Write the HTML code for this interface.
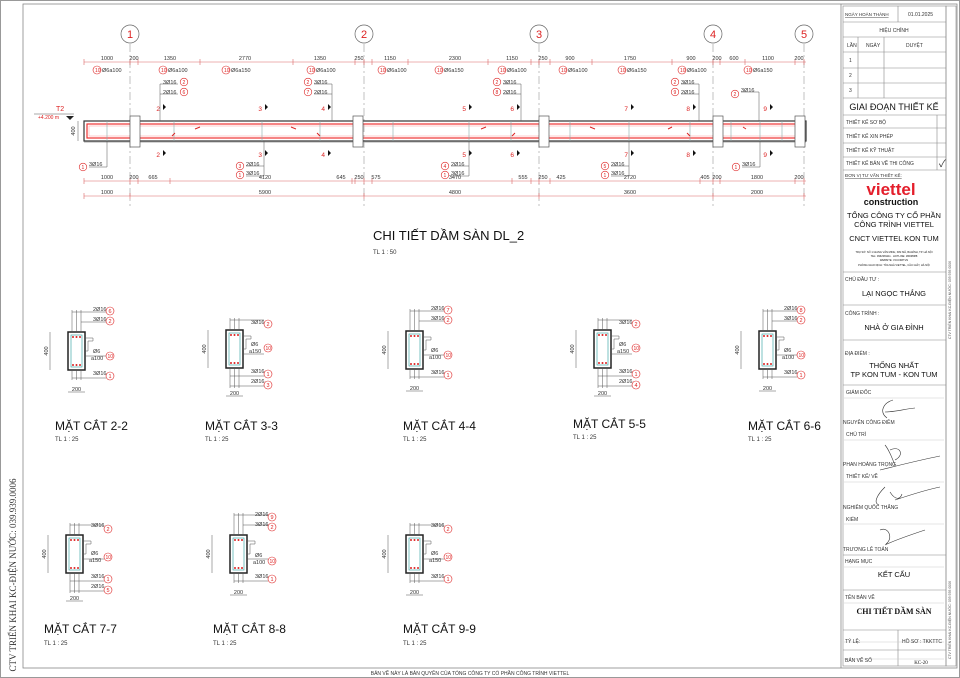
<!DOCTYPE html>
<html><head><meta charset="utf-8"><style>
html,body{margin:0;padding:0;background:#fff}
svg{display:block}
text{font-family:"Liberation Sans","Noto Sans CJK SC",sans-serif}
.d{font-size:5.5px;fill:#333}
.r{fill:#d22}
.c{fill:none;stroke:#d22;stroke-width:.6}
.g{stroke:#555;stroke-width:.5;fill:none}
.rl{stroke:#d66;stroke-width:.5;fill:none}
.t{font-size:5px;fill:#333}
.tb{font-size:9px;fill:#111}
</style></head><body>
<svg width="960" height="678" viewBox="0 0 960 678" xmlns="http://www.w3.org/2000/svg">
<defs>
<g id="cir"><circle r="4" class="c"/></g>
</defs>
<rect x="0.5" y="0.5" width="959" height="677" fill="none" stroke="#999"/>
<rect x="23" y="4" width="934" height="664" fill="none" stroke="#888" stroke-width=".8"/>
<line x1="841" y1="4" x2="841" y2="668" stroke="#888" stroke-width=".8"/>
<text x="16" y="575" transform="rotate(-90 16 575)" text-anchor="middle" style="font-family:'Liberation Serif',serif;font-size:9px;fill:#333">CTV TRIỂN KHAI KC-ĐIỆN NƯỚC: 039.939.0006</text>
<text x="470" y="675" text-anchor="middle" style="font-size:5px;fill:#333">BẢN VẼ NÀY LÀ BẢN QUYỀN CỦA TỔNG CÔNG TY CỔ PHẦN CÔNG TRÌNH VIETTEL</text>

<g stroke="#999" stroke-width=".6" stroke-dasharray="8,3,2,3">
<line x1="130" y1="44" x2="130" y2="206"/><line x1="364" y1="44" x2="364" y2="206"/><line x1="539" y1="44" x2="539" y2="206"/><line x1="713" y1="44" x2="713" y2="206"/><line x1="804" y1="44" x2="804" y2="206"/>
</g>
<g fill="#fff" stroke="#666" stroke-width=".7">
<circle cx="130" cy="34" r="9"/><circle cx="364" cy="34" r="9"/><circle cx="539" cy="34" r="9"/><circle cx="713" cy="34" r="9"/><circle cx="804" cy="34" r="9"/>
</g>
<g class="r" font-size="11" text-anchor="middle">
<text x="130" y="38">1</text><text x="364" y="38">2</text><text x="539" y="38">3</text><text x="713" y="38">4</text><text x="804" y="38">5</text>
</g>

<g class="rl"><line x1="84" y1="62" x2="806" y2="62"/><line x1="84" y1="181" x2="806" y2="181"/><line x1="84" y1="196" x2="806" y2="196"/></g>
<g stroke="#d66" stroke-width=".6">
<path d="M84,59v6M130,59v6M138,59v6M200,59v6M293,59v6M355,59v6M364,59v6M372,59v6M408,59v6M488,59v6M531,59v6M539,59v6M550,59v6M592,59v6M672,59v6M713,59v6M720,59v6M745,59v6M795,59v6M804,59v6"/>
<path d="M84,178v6M130,178v6M138,178v6M170,178v6M352,178v6M355,178v6M364,178v6M372,178v6M512,178v6M531,178v6M539,178v6M550,178v6M700,178v6M713,178v6M720,178v6M795,178v6M804,178v6"/>
<path d="M84,193v6M130,193v6M364,193v6M539,193v6M713,193v6M804,193v6"/>
</g>
<g class="d" text-anchor="middle">
<text x="107" y="60">1000</text><text x="134" y="60">200</text><text x="170" y="60">1350</text><text x="245" y="60">2770</text><text x="320" y="60">1350</text><text x="359" y="60">250</text><text x="390" y="60">1150</text><text x="455" y="60">2300</text><text x="512" y="60">1150</text><text x="543" y="60">250</text><text x="570" y="60">900</text><text x="630" y="60">1750</text><text x="691" y="60">900</text><text x="717" y="60">200</text><text x="734" y="60">600</text><text x="768" y="60">1100</text><text x="799" y="60">200</text>
<text x="107" y="179">1000</text><text x="134" y="179">200</text><text x="153" y="179">665</text><text x="265" y="179">4120</text><text x="341" y="179">645</text><text x="359" y="179">250</text><text x="376" y="179">575</text><text x="455" y="179">3470</text><text x="523" y="179">555</text><text x="543" y="179">250</text><text x="561" y="179">425</text><text x="630" y="179">2720</text><text x="705" y="179">405</text><text x="717" y="179">200</text><text x="757" y="179">1800</text><text x="799" y="179">200</text>
<text x="107" y="194">1000</text><text x="265" y="194">5900</text><text x="455" y="194">4800</text><text x="630" y="194">3600</text><text x="757" y="194">2000</text>
</g>
<g class="d">
<g transform="translate(97,70)"><use href="#cir"/><text x="-2" y="2" class="r" font-size="5">10</text><text x="5" y="2">Ø6a100</text></g>
<g transform="translate(163,70)"><use href="#cir"/><text x="-2" y="2" class="r" font-size="5">10</text><text x="5" y="2">Ø6a100</text></g>
<g transform="translate(226,70)"><use href="#cir"/><text x="-2" y="2" class="r" font-size="5">10</text><text x="5" y="2">Ø6a150</text></g>
<g transform="translate(311,70)"><use href="#cir"/><text x="-2" y="2" class="r" font-size="5">10</text><text x="5" y="2">Ø6a100</text></g>
<g transform="translate(382,70)"><use href="#cir"/><text x="-2" y="2" class="r" font-size="5">10</text><text x="5" y="2">Ø6a100</text></g>
<g transform="translate(439,70)"><use href="#cir"/><text x="-2" y="2" class="r" font-size="5">10</text><text x="5" y="2">Ø6a150</text></g>
<g transform="translate(502,70)"><use href="#cir"/><text x="-2" y="2" class="r" font-size="5">10</text><text x="5" y="2">Ø6a100</text></g>
<g transform="translate(563,70)"><use href="#cir"/><text x="-2" y="2" class="r" font-size="5">10</text><text x="5" y="2">Ø6a100</text></g>
<g transform="translate(622,70)"><use href="#cir"/><text x="-2" y="2" class="r" font-size="5">10</text><text x="5" y="2">Ø6a150</text></g>
<g transform="translate(682,70)"><use href="#cir"/><text x="-2" y="2" class="r" font-size="5">10</text><text x="5" y="2">Ø6a100</text></g>
<g transform="translate(748,70)"><use href="#cir"/><text x="-2" y="2" class="r" font-size="5">10</text><text x="5" y="2">Ø6a150</text></g>
</g>

<text x="56" y="111" class="r" font-size="7">T2</text>
<text x="38" y="119" class="r" font-size="5">+4.200 m</text>
<line x1="34" y1="114" x2="74" y2="114" stroke="#555" stroke-width=".5"/>
<path d="M66,116l4,4l4,-4z" fill="#222"/>
<text x="75" y="131" class="d" transform="rotate(-90 75 131)" text-anchor="middle">400</text>
<line x1="78" y1="121" x2="78" y2="141" class="g"/>

<rect x="84" y="121" width="722" height="20" fill="none" stroke="#333" stroke-width="1.2"/>
<line x1="84" y1="142" x2="806" y2="142" stroke="#aaa" stroke-width="1"/>
<rect x="87" y="124" width="716" height="14" fill="none" stroke="#e33" stroke-width="1.2"/>
<rect x="89" y="126" width="712" height="10" fill="none" stroke="#f99" stroke-width=".5"/>
<g fill="#fff" stroke="#555" stroke-width=".7">
<rect x="130" y="116" width="10" height="31"/><rect x="353" y="116" width="10" height="31"/><rect x="539" y="116" width="10" height="31"/><rect x="713" y="116" width="10" height="31"/><rect x="795" y="116" width="10" height="31"/>
</g>
<g stroke="#8aa" stroke-width=".6">
<path d="M107,121v20M174,121v20M262,121v20M320,121v20M393,121v20M469,121v20M511,121v20M570,121v20M629,121v20M690,121v20M731,121v20M760,121v20M782,121v20"/>
</g>
<g stroke="#d22" stroke-width="1"><path d="M200,127l-5,2M291,127l5,2M172,136l3,-3M320,136l-3,-3M486,127l-5,2M590,127l5,2M512,136l3,-3M690,136l-3,-3M672,127l-4,2M743,127l3,2"/></g>
<g class="r" font-size="6.5" text-anchor="end">
<text x="160" y="111">2</text><text x="262" y="111">3</text><text x="325" y="111">4</text><text x="466" y="111">5</text><text x="514" y="111">6</text><text x="628" y="111">7</text><text x="690" y="111">8</text><text x="767" y="111">9</text>
<text x="160" y="157">2</text><text x="262" y="157">3</text><text x="325" y="157">4</text><text x="466" y="157">5</text><text x="514" y="157">6</text><text x="628" y="157">7</text><text x="690" y="157">8</text><text x="767" y="157">9</text>
</g>
<g fill="#111"><path d="M163,104l3,3l-3,3zM265,104l3,3l-3,3zM328,104l3,3l-3,3zM469,104l3,3l-3,3zM517,104l3,3l-3,3zM631,104l3,3l-3,3zM693,104l3,3l-3,3zM770,104l3,3l-3,3z"/>
<path d="M163,150l3,3l-3,3zM265,150l3,3l-3,3zM328,150l3,3l-3,3zM469,150l3,3l-3,3zM517,150l3,3l-3,3zM631,150l3,3l-3,3zM693,150l3,3l-3,3zM770,150l3,3l-3,3z"/></g>
<g class="g">
<path d="M160,121V94h18M160,94V84h18M332,121V84h-18M332,94h-18M521,121V84h-18M521,94h-18M699,121V84h-18M699,94h-18M759,121V92h-18"/>
<path d="M107,141v26h-18M264,141v35h-18M264,166h-18M469,141v35h-18M469,166h-18M629,141v35h-18M629,166h-18M760,141v26h-18"/>
</g>
<g class="d">
<text x="163" y="84">3Ø16</text><circle cx="184" cy="82" r="3.8" class="c"/><text x="182.5" y="84" class="r" font-size="5">2</text>
<text x="163" y="94">2Ø16</text><circle cx="184" cy="92" r="3.8" class="c"/><text x="182.5" y="94" class="r" font-size="5">6</text>
<text x="314" y="84">3Ø16</text><circle cx="308" cy="82" r="3.8" class="c"/><text x="306.5" y="84" class="r" font-size="5">2</text>
<text x="314" y="94">2Ø16</text><circle cx="308" cy="92" r="3.8" class="c"/><text x="306.5" y="94" class="r" font-size="5">7</text>
<text x="503" y="84">3Ø16</text><circle cx="497" cy="82" r="3.8" class="c"/><text x="495.5" y="84" class="r" font-size="5">2</text>
<text x="503" y="94">2Ø16</text><circle cx="497" cy="92" r="3.8" class="c"/><text x="495.5" y="94" class="r" font-size="5">8</text>
<text x="681" y="84">3Ø16</text><circle cx="675" cy="82" r="3.8" class="c"/><text x="673.5" y="84" class="r" font-size="5">2</text>
<text x="681" y="94">2Ø16</text><circle cx="675" cy="92" r="3.8" class="c"/><text x="673.5" y="94" class="r" font-size="5">9</text>
<text x="741" y="92">3Ø16</text><circle cx="735" cy="94" r="3.8" class="c"/><text x="733.5" y="96" class="r" font-size="5">2</text>
<text x="89" y="166">3Ø16</text><circle cx="83" cy="167" r="3.8" class="c"/><text x="81.5" y="169" class="r" font-size="5">1</text>
<text x="246" y="166">2Ø16</text><circle cx="240" cy="166" r="3.8" class="c"/><text x="238.5" y="168" class="r" font-size="5">3</text>
<text x="246" y="175">3Ø16</text><circle cx="240" cy="175" r="3.8" class="c"/><text x="238.5" y="177" class="r" font-size="5">1</text>
<text x="451" y="166">2Ø16</text><circle cx="445" cy="166" r="3.8" class="c"/><text x="443.5" y="168" class="r" font-size="5">4</text>
<text x="451" y="175">3Ø16</text><circle cx="445" cy="175" r="3.8" class="c"/><text x="443.5" y="177" class="r" font-size="5">1</text>
<text x="611" y="166">2Ø16</text><circle cx="605" cy="166" r="3.8" class="c"/><text x="603.5" y="168" class="r" font-size="5">5</text>
<text x="611" y="175">3Ø16</text><circle cx="605" cy="175" r="3.8" class="c"/><text x="603.5" y="177" class="r" font-size="5">1</text>
<text x="742" y="166">3Ø16</text><circle cx="736" cy="167" r="3.8" class="c"/><text x="734.5" y="169" class="r" font-size="5">1</text>
</g>

<text x="373" y="240" font-size="13" fill="#111">CHI TIẾT DẦM SÀN DL_2</text>
<text x="373" y="254" font-size="6" fill="#333">TL 1 : 50</text>

<g transform="translate(68,332)">
<rect x="0" y="0" width="17" height="38" fill="none" stroke="#222" stroke-width="1.5"/>
<rect x="3" y="3" width="11" height="32" fill="none" stroke="#4aa" stroke-width=".7"/>
<path class="g" d="M17,6h8v3h-5v10h-3M4,0V-22M8.5,0V-22M13,0V-22M4,-20H38M13,-10H38M4,38V48M8.5,38V48M13,38V48M4,46H38M17,24H38M-18,0v38M0,60h17"/>
<g fill="#d22"><circle cx="5" cy="5" r="1"/><circle cx="8.5" cy="5" r="1"/><circle cx="12" cy="5" r="1"/><circle cx="5" cy="33" r="1"/><circle cx="8.5" cy="33" r="1"/><circle cx="12" cy="33" r="1"/></g>
<text x="-20" y="19" class="d" transform="rotate(-90 -20 19)" text-anchor="middle">400</text><text x="8.5" y="59" class="d" text-anchor="middle">200</text>
<text x="25" y="-21" class="d">2Ø16</text><circle cx="42" cy="-21" r="4" class="c"/><text x="40.5" y="-19" class="r" font-size="5.5">6</text>
<text x="25" y="-11" class="d">3Ø16</text><circle cx="42" cy="-11" r="4" class="c"/><text x="40.5" y="-9" class="r" font-size="5.5">2</text>
<text x="25" y="21" class="d">Ø6</text><text x="23" y="28" class="d">a100</text><circle cx="42" cy="24" r="4" class="c"/><text x="39.5" y="26" class="r" font-size="5">10</text>
<text x="25" y="43" class="d">3Ø16</text><circle cx="42" cy="44" r="4" class="c"/><text x="40.5" y="46" class="r" font-size="5.5">1</text>
</g>
<g transform="translate(226,330)">
<rect x="0" y="0" width="17" height="38" fill="none" stroke="#222" stroke-width="1.5"/>
<rect x="3" y="3" width="11" height="32" fill="none" stroke="#4aa" stroke-width=".7"/>
<path class="g" d="M17,6h8v3h-5v10h-3M4,0V-12M8.5,0V-12M13,0V-12M4,-10H38M4,38V58M8.5,38V58M13,38V58M4,46H38M4,56H38M17,24H38M-18,0v38M0,66h17"/>
<g fill="#d22"><circle cx="5" cy="5" r="1"/><circle cx="8.5" cy="5" r="1"/><circle cx="12" cy="5" r="1"/><circle cx="5" cy="33" r="1"/><circle cx="8.5" cy="33" r="1"/><circle cx="12" cy="33" r="1"/></g>
<text x="-20" y="19" class="d" transform="rotate(-90 -20 19)" text-anchor="middle">400</text><text x="8.5" y="65" class="d" text-anchor="middle">200</text>
<text x="25" y="-6" class="d">3Ø16</text><circle cx="42" cy="-6" r="4" class="c"/><text x="40.5" y="-4" class="r" font-size="5.5">2</text>
<text x="25" y="16" class="d">Ø6</text><text x="23" y="23" class="d">a150</text><circle cx="42" cy="18" r="4" class="c"/><text x="39.5" y="20" class="r" font-size="5">10</text>
<text x="25" y="43" class="d">3Ø16</text><circle cx="42" cy="44" r="4" class="c"/><text x="40.5" y="46" class="r" font-size="5.5">1</text>
<text x="25" y="53" class="d">2Ø16</text><circle cx="42" cy="55" r="4" class="c"/><text x="40.5" y="57" class="r" font-size="5.5">3</text>
</g>
<g transform="translate(406,331)">
<rect x="0" y="0" width="17" height="38" fill="none" stroke="#222" stroke-width="1.5"/>
<rect x="3" y="3" width="11" height="32" fill="none" stroke="#4aa" stroke-width=".7"/>
<path class="g" d="M17,6h8v3h-5v10h-3M4,0V-22M8.5,0V-22M13,0V-22M4,-20H38M13,-10H38M4,38V48M8.5,38V48M13,38V48M4,46H38M17,24H38M-18,0v38M0,60h17"/>
<g fill="#d22"><circle cx="5" cy="5" r="1"/><circle cx="8.5" cy="5" r="1"/><circle cx="12" cy="5" r="1"/><circle cx="5" cy="33" r="1"/><circle cx="8.5" cy="33" r="1"/><circle cx="12" cy="33" r="1"/></g>
<text x="-20" y="19" class="d" transform="rotate(-90 -20 19)" text-anchor="middle">400</text><text x="8.5" y="59" class="d" text-anchor="middle">200</text>
<text x="25" y="-21" class="d">2Ø16</text><circle cx="42" cy="-21" r="4" class="c"/><text x="40.5" y="-19" class="r" font-size="5.5">7</text>
<text x="25" y="-11" class="d">3Ø16</text><circle cx="42" cy="-11" r="4" class="c"/><text x="40.5" y="-9" class="r" font-size="5.5">2</text>
<text x="25" y="21" class="d">Ø6</text><text x="23" y="28" class="d">a100</text><circle cx="42" cy="24" r="4" class="c"/><text x="39.5" y="26" class="r" font-size="5">10</text>
<text x="25" y="43" class="d">3Ø16</text><circle cx="42" cy="44" r="4" class="c"/><text x="40.5" y="46" class="r" font-size="5.5">1</text>
</g>
<g transform="translate(594,330)">
<rect x="0" y="0" width="17" height="38" fill="none" stroke="#222" stroke-width="1.5"/>
<rect x="3" y="3" width="11" height="32" fill="none" stroke="#4aa" stroke-width=".7"/>
<path class="g" d="M17,6h8v3h-5v10h-3M4,0V-12M8.5,0V-12M13,0V-12M4,-10H38M4,38V58M8.5,38V58M13,38V58M4,46H38M4,56H38M17,24H38M-18,0v38M0,66h17"/>
<g fill="#d22"><circle cx="5" cy="5" r="1"/><circle cx="8.5" cy="5" r="1"/><circle cx="12" cy="5" r="1"/><circle cx="5" cy="33" r="1"/><circle cx="8.5" cy="33" r="1"/><circle cx="12" cy="33" r="1"/></g>
<text x="-20" y="19" class="d" transform="rotate(-90 -20 19)" text-anchor="middle">400</text><text x="8.5" y="65" class="d" text-anchor="middle">200</text>
<text x="25" y="-6" class="d">3Ø16</text><circle cx="42" cy="-6" r="4" class="c"/><text x="40.5" y="-4" class="r" font-size="5.5">2</text>
<text x="25" y="16" class="d">Ø6</text><text x="23" y="23" class="d">a150</text><circle cx="42" cy="18" r="4" class="c"/><text x="39.5" y="20" class="r" font-size="5">10</text>
<text x="25" y="43" class="d">3Ø16</text><circle cx="42" cy="44" r="4" class="c"/><text x="40.5" y="46" class="r" font-size="5.5">1</text>
<text x="25" y="53" class="d">2Ø16</text><circle cx="42" cy="55" r="4" class="c"/><text x="40.5" y="57" class="r" font-size="5.5">4</text>
</g>
<g transform="translate(759,331)">
<rect x="0" y="0" width="17" height="38" fill="none" stroke="#222" stroke-width="1.5"/>
<rect x="3" y="3" width="11" height="32" fill="none" stroke="#4aa" stroke-width=".7"/>
<path class="g" d="M17,6h8v3h-5v10h-3M4,0V-22M8.5,0V-22M13,0V-22M4,-20H38M13,-10H38M4,38V48M8.5,38V48M13,38V48M4,46H38M17,24H38M-18,0v38M0,60h17"/>
<g fill="#d22"><circle cx="5" cy="5" r="1"/><circle cx="8.5" cy="5" r="1"/><circle cx="12" cy="5" r="1"/><circle cx="5" cy="33" r="1"/><circle cx="8.5" cy="33" r="1"/><circle cx="12" cy="33" r="1"/></g>
<text x="-20" y="19" class="d" transform="rotate(-90 -20 19)" text-anchor="middle">400</text><text x="8.5" y="59" class="d" text-anchor="middle">200</text>
<text x="25" y="-21" class="d">2Ø16</text><circle cx="42" cy="-21" r="4" class="c"/><text x="40.5" y="-19" class="r" font-size="5.5">8</text>
<text x="25" y="-11" class="d">3Ø16</text><circle cx="42" cy="-11" r="4" class="c"/><text x="40.5" y="-9" class="r" font-size="5.5">2</text>
<text x="25" y="21" class="d">Ø6</text><text x="23" y="28" class="d">a100</text><circle cx="42" cy="24" r="4" class="c"/><text x="39.5" y="26" class="r" font-size="5">10</text>
<text x="25" y="43" class="d">3Ø16</text><circle cx="42" cy="44" r="4" class="c"/><text x="40.5" y="46" class="r" font-size="5.5">1</text>
</g>
<g transform="translate(66,535)">
<rect x="0" y="0" width="17" height="38" fill="none" stroke="#222" stroke-width="1.5"/>
<rect x="3" y="3" width="11" height="32" fill="none" stroke="#4aa" stroke-width=".7"/>
<path class="g" d="M17,6h8v3h-5v10h-3M4,0V-12M8.5,0V-12M13,0V-12M4,-10H38M4,38V58M8.5,38V58M13,38V58M4,46H38M4,56H38M17,24H38M-18,0v38M0,66h17"/>
<g fill="#d22"><circle cx="5" cy="5" r="1"/><circle cx="8.5" cy="5" r="1"/><circle cx="12" cy="5" r="1"/><circle cx="5" cy="33" r="1"/><circle cx="8.5" cy="33" r="1"/><circle cx="12" cy="33" r="1"/></g>
<text x="-20" y="19" class="d" transform="rotate(-90 -20 19)" text-anchor="middle">400</text><text x="8.5" y="65" class="d" text-anchor="middle">200</text>
<text x="25" y="-8" class="d">3Ø16</text><circle cx="42" cy="-6" r="4" class="c"/><text x="40.5" y="-4" class="r" font-size="5.5">2</text>
<text x="25" y="20" class="d">Ø6</text><text x="23" y="27" class="d">a150</text><circle cx="42" cy="22" r="4" class="c"/><text x="39.5" y="24" class="r" font-size="5">10</text>
<text x="25" y="43" class="d">3Ø16</text><circle cx="42" cy="44" r="4" class="c"/><text x="40.5" y="46" class="r" font-size="5.5">1</text>
<text x="25" y="53" class="d">2Ø16</text><circle cx="42" cy="55" r="4" class="c"/><text x="40.5" y="57" class="r" font-size="5.5">5</text>
</g>
<g transform="translate(230,535)">
<rect x="0" y="0" width="17" height="38" fill="none" stroke="#222" stroke-width="1.5"/>
<rect x="3" y="3" width="11" height="32" fill="none" stroke="#4aa" stroke-width=".7"/>
<path class="g" d="M17,6h8v3h-5v10h-3M4,0V-22M8.5,0V-22M13,0V-22M4,-20H38M13,-10H38M4,38V48M8.5,38V48M13,38V48M4,46H38M17,24H38M-18,0v38M0,60h17"/>
<g fill="#d22"><circle cx="5" cy="5" r="1"/><circle cx="8.5" cy="5" r="1"/><circle cx="12" cy="5" r="1"/><circle cx="5" cy="33" r="1"/><circle cx="8.5" cy="33" r="1"/><circle cx="12" cy="33" r="1"/></g>
<text x="-20" y="19" class="d" transform="rotate(-90 -20 19)" text-anchor="middle">400</text><text x="8.5" y="59" class="d" text-anchor="middle">200</text>
<text x="25" y="-19" class="d">2Ø16</text><circle cx="42" cy="-18" r="4" class="c"/><text x="40.5" y="-16" class="r" font-size="5.5">9</text>
<text x="25" y="-9" class="d">3Ø16</text><circle cx="42" cy="-8" r="4" class="c"/><text x="40.5" y="-6" class="r" font-size="5.5">2</text>
<text x="25" y="22" class="d">Ø6</text><text x="23" y="29" class="d">a100</text><circle cx="42" cy="26" r="4" class="c"/><text x="39.5" y="28" class="r" font-size="5">10</text>
<text x="25" y="43" class="d">3Ø16</text><circle cx="42" cy="44" r="4" class="c"/><text x="40.5" y="46" class="r" font-size="5.5">1</text>
</g>
<g transform="translate(406,535)">
<rect x="0" y="0" width="17" height="38" fill="none" stroke="#222" stroke-width="1.5"/>
<rect x="3" y="3" width="11" height="32" fill="none" stroke="#4aa" stroke-width=".7"/>
<path class="g" d="M17,6h8v3h-5v10h-3M4,0V-12M8.5,0V-12M13,0V-12M4,-10H38M4,38V48M8.5,38V48M13,38V48M4,46H38M17,24H38M-18,0v38M0,60h17"/>
<g fill="#d22"><circle cx="5" cy="5" r="1"/><circle cx="8.5" cy="5" r="1"/><circle cx="12" cy="5" r="1"/><circle cx="5" cy="33" r="1"/><circle cx="8.5" cy="33" r="1"/><circle cx="12" cy="33" r="1"/></g>
<text x="-20" y="19" class="d" transform="rotate(-90 -20 19)" text-anchor="middle">400</text><text x="8.5" y="59" class="d" text-anchor="middle">200</text>
<text x="25" y="-8" class="d">3Ø16</text><circle cx="42" cy="-6" r="4" class="c"/><text x="40.5" y="-4" class="r" font-size="5.5">2</text>
<text x="25" y="20" class="d">Ø6</text><text x="23" y="27" class="d">a150</text><circle cx="42" cy="22" r="4" class="c"/><text x="39.5" y="24" class="r" font-size="5">10</text>
<text x="25" y="43" class="d">3Ø16</text><circle cx="42" cy="44" r="4" class="c"/><text x="40.5" y="46" class="r" font-size="5.5">1</text>
</g>

<g font-size="12" fill="#111">
<text x="55" y="430">MẶT CẮT 2-2</text><text x="205" y="430">MẶT CẮT 3-3</text><text x="403" y="430">MẶT CẮT 4-4</text><text x="573" y="428">MẶT CẮT 5-5</text><text x="748" y="430">MẶT CẮT 6-6</text>
<text x="44" y="633">MẶT CẮT 7-7</text><text x="213" y="633">MẶT CẮT 8-8</text><text x="403" y="633">MẶT CẮT 9-9</text>
</g>
<g font-size="6" fill="#333">
<text x="55" y="441">TL 1 : 25</text><text x="205" y="441">TL 1 : 25</text><text x="403" y="441">TL 1 : 25</text><text x="573" y="439">TL 1 : 25</text><text x="748" y="441">TL 1 : 25</text>
<text x="44" y="645">TL 1 : 25</text><text x="213" y="645">TL 1 : 25</text><text x="403" y="645">TL 1 : 25</text>
</g>

<g stroke="#888" stroke-width=".6" fill="none">
<rect x="843" y="6" width="103" height="660"/>
<path d="M843,22H946M843,37H946M843,52H946M843,68H946M843,83H946M843,98H946M843,115H946M843,128H946M843,143H946M843,157H946M843,170H946M843,272H946M843,305H946M843,340H946M843,385H946M843,555H946M843,590H946M843,630H946M843,650H946"/>
<path d="M898,6V22M858,37V98M884,37V98M937,115V170M898,630V666"/>
<path d="M844,398H944M844,440H944M844,482H944M844,524H944M844,567H944M844,603H944M844,642H944M844,659H944" stroke="#ccc"/>
<rect x="946" y="6" width="10" height="660"/>
</g>
<g class="t">
<text x="845" y="16" font-size="4.5" text-decoration="underline">NGÀY HOÀN THÀNH</text><text x="908" y="16">01.01.2025</text>
<text x="894" y="32" text-anchor="middle">HIỆU CHỈNH</text>
<text x="847" y="47">LẦN</text><text x="866" y="47">NGÀY</text><text x="906" y="47">DUYỆT</text>
<text x="849" y="62">1</text><text x="849" y="77">2</text><text x="849" y="92">3</text>
<text x="894" y="110" text-anchor="middle" font-size="9" fill="#111">GIAI ĐOẠN THIẾT KẾ</text>
<text x="846" y="124">THIẾT KẾ SƠ BỘ</text><text x="846" y="138">THIẾT KẾ XIN PHÉP</text><text x="846" y="152">THIẾT KẾ KỸ THUẬT</text><text x="846" y="165">THIẾT KẾ BẢN VẼ THI CÔNG</text>
<text x="939" y="167" font-size="10">✓</text>
<text x="845" y="177" font-size="4.5" text-decoration="underline">ĐƠN VỊ TƯ VẤN THIẾT KẾ:</text>
</g>
<text x="891" y="195" text-anchor="middle" font-size="17" font-weight="bold" fill="#e41e2b">viettel</text>
<text x="891" y="205" text-anchor="middle" font-size="9" font-weight="bold" fill="#111">construction</text>
<g fill="#111" text-anchor="middle">
<text x="894" y="218" font-size="7.5">TỔNG CÔNG TY CỔ PHẦN</text>
<text x="894" y="227" font-size="7.5">CÔNG TRÌNH VIETTEL</text>
<text x="894" y="241" font-size="7.5">CNCT VIETTEL KON TUM</text>
<text x="894" y="253" font-size="2.6">TRỤ SỞ: SỐ 1 GIANG VĂN MINH, KIM MÃ, BA ĐÌNH, TP. HÀ NỘI</text>
<text x="894" y="257" font-size="2.6">TEL: 0962381111 · HOTLINE: 18008088</text>
<text x="894" y="261" font-size="2.6">WEBSITE: VCCORP.VN</text>
<text x="894" y="266" font-size="2.6">PHÒNG GIAO DỊCH: TÒA NHÀ VIETTEL, CẦU GIẤY, HÀ NỘI</text>
<text x="894" y="296" font-size="7.5">LẠI NGỌC THẮNG</text>
<text x="894" y="330" font-size="7.5">NHÀ Ở GIA ĐÌNH</text>
<text x="894" y="368" font-size="7.5">THỐNG NHẤT</text>
<text x="894" y="377" font-size="7.5">TP KON TUM - KON TUM</text>
<text x="894" y="577" font-size="7.5">KẾT CẤU</text>
<text x="894" y="614" font-size="8" font-weight="bold" style="font-family:'Liberation Serif',serif">CHI TIẾT DẦM SÀN</text>
<text x="921" y="664" font-size="5" style="font-family:'Liberation Serif',serif">KC-20</text>
</g>
<g class="t" font-size="5.5">
<text x="845" y="281">CHỦ ĐẦU TƯ :</text><text x="845" y="315">CÔNG TRÌNH :</text><text x="845" y="355">ĐỊA ĐIỂM :</text>
<text x="846" y="394">GIÁM ĐỐC</text><text x="843" y="424">NGUYỄN CÔNG ĐIỀM</text>
<text x="846" y="436">CHỦ TRÌ</text><text x="843" y="466">PHAN HOÀNG TRỌNG</text>
<text x="846" y="478">THIẾT KẾ/ VẼ</text><text x="843" y="509">NGHIÊM QUỐC THẮNG</text>
<text x="846" y="521">KIỂM</text><text x="843" y="551">TRƯƠNG LÊ TOẢN</text>
<text x="845" y="563">HẠNG MỤC</text><text x="845" y="599">TÊN BẢN VẼ</text>
<text x="845" y="643">TỶ LỆ:</text><text x="902" y="643">HỒ SƠ : TKKTTC</text><text x="845" y="662">BẢN VẼ SỐ</text>
</g>
<g fill="none" stroke="#333" stroke-width=".6">
<path d="M893,400c-10,3,-14,12,-6,18M885,412c10,0,20,-3,30,-4"/>
<path d="M885,445c5,6,8,16,10,20M890,450c10,-5,15,5,5,10M880,470c20,-5,40,-10,60,-14"/>
<path d="M885,487c-8,8,-12,16,-6,18M890,492c5,8,10,8,12,2M895,500c15,-5,30,-10,45,-13"/>
<path d="M880,530c8,-4,14,8,6,14M885,545c10,-5,25,-10,40,-15"/>
</g>
<text x="951" y="300" transform="rotate(-90 951 300)" text-anchor="middle" font-size="3.5" fill="#555">CTV TRIỂN KHAI KC-ĐIỆN NƯỚC: 039.939.0006</text>
<text x="951" y="620" transform="rotate(-90 951 620)" text-anchor="middle" font-size="3.5" fill="#555">CTV TRIỂN KHAI KC-ĐIỆN NƯỚC: 039.939.0006</text>
</svg>
</body></html>
